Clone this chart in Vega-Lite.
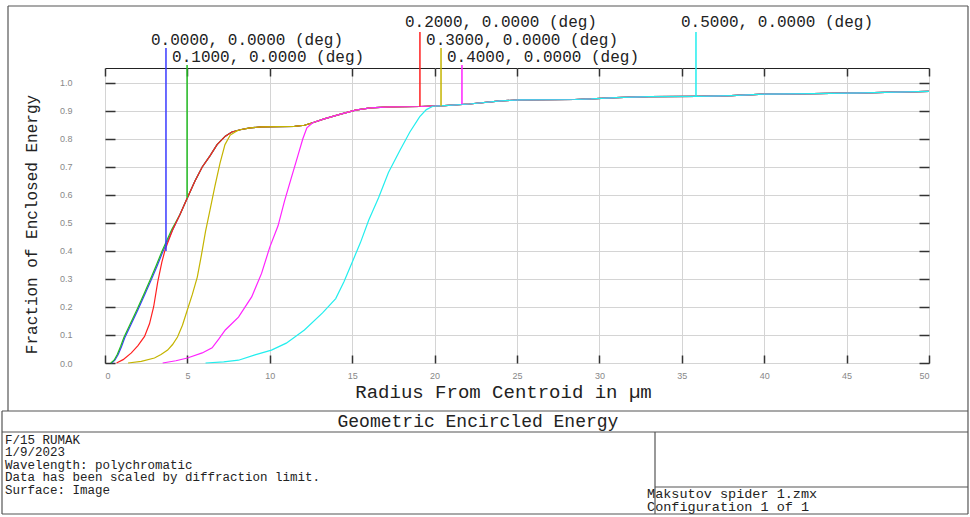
{
"$schema": "https://vega.github.io/schema/vega-lite/v6.json",
"width": 824, "height": 295,
"autosize": {"type": "none"},
"padding": {"left": 105, "top": 68, "right": 41, "bottom": 154},
"background": "white",
"config": {"view": {"stroke": "#222", "strokeWidth": 1}, "font": "Liberation Mono"},
"resolve": {"axis": {"x": "independent", "y": "independent"}},
"datasets": {
"curves": [
{"f":"0.0","r":0.4,"e":0},{"f":"0.0","r":0.6,"e":0.01},{"f":"0.0","r":0.8,"e":0.03},{"f":"0.0","r":1.0,"e":0.058},{"f":"0.0","r":1.2,"e":0.09},{"f":"0.0","r":1.6,"e":0.14},{"f":"0.0","r":2.0,"e":0.19},{"f":"0.0","r":2.4,"e":0.243},{"f":"0.0","r":2.8,"e":0.296},{"f":"0.0","r":3.15,"e":0.345},{"f":"0.0","r":3.5,"e":0.396},{"f":"0.0","r":4.1,"e":0.475},{"f":"0.0","r":4.55,"e":0.53},{"f":"0.0","r":5.0,"e":0.59},{"f":"0.0","r":5.46,"e":0.65},{"f":"0.0","r":5.9,"e":0.7},{"f":"0.0","r":6.37,"e":0.74},{"f":"0.0","r":6.8,"e":0.78},{"f":"0.0","r":7.3,"e":0.81},{"f":"0.0","r":7.7,"e":0.825},
{"f":"0.0","r":8.2,"e":0.833},{"f":"0.0","r":8.8,"e":0.84},{"f":"0.0","r":9.5,"e":0.843},{"f":"0.0","r":10.5,"e":0.844},{"f":"0.0","r":11.5,"e":0.845},{"f":"0.0","r":12.1,"e":0.849},{"f":"0.0","r":12.6,"e":0.858},{"f":"0.0","r":13.3,"e":0.872},{"f":"0.0","r":14.3,"e":0.889},{"f":"0.0","r":15.2,"e":0.903},{"f":"0.0","r":16.1,"e":0.911},{"f":"0.0","r":17.3,"e":0.915},{"f":"0.0","r":19.1,"e":0.916},{"f":"0.0","r":20.6,"e":0.919},{"f":"0.0","r":22.1,"e":0.925},{"f":"0.0","r":24.0,"e":0.936},{"f":"0.0","r":25.2,"e":0.94},{"f":"0.0","r":28.5,"e":0.941},{"f":"0.0","r":29.5,"e":0.943},{"f":"0.0","r":31,"e":0.948},{"f":"0.0","r":33,"e":0.951},{"f":"0.0","r":36,"e":0.952},{"f":"0.0","r":38,"e":0.955},{"f":"0.0","r":40,"e":0.96},{"f":"0.0","r":43,"e":0.962},{"f":"0.0","r":46,"e":0.965},{"f":"0.0","r":50,"e":0.97},
{"f":"0.1","r":0.35,"e":0},{"f":"0.1","r":0.55,"e":0.01},{"f":"0.1","r":0.75,"e":0.031},{"f":"0.1","r":0.95,"e":0.06},{"f":"0.1","r":1.15,"e":0.092},{"f":"0.1","r":1.55,"e":0.142},{"f":"0.1","r":1.95,"e":0.192},{"f":"0.1","r":2.35,"e":0.245},{"f":"0.1","r":2.75,"e":0.298},{"f":"0.1","r":3.1,"e":0.347},{"f":"0.1","r":3.45,"e":0.398},{"f":"0.1","r":4.05,"e":0.477},{"f":"0.1","r":4.55,"e":0.53},{"f":"0.1","r":5.0,"e":0.59},{"f":"0.1","r":5.46,"e":0.65},{"f":"0.1","r":5.9,"e":0.7},{"f":"0.1","r":6.37,"e":0.74},{"f":"0.1","r":6.8,"e":0.78},{"f":"0.1","r":7.3,"e":0.81},{"f":"0.1","r":7.7,"e":0.825},
{"f":"0.1","r":8.2,"e":0.833},{"f":"0.1","r":8.8,"e":0.84},{"f":"0.1","r":9.5,"e":0.843},{"f":"0.1","r":10.5,"e":0.844},{"f":"0.1","r":11.5,"e":0.845},{"f":"0.1","r":12.1,"e":0.849},{"f":"0.1","r":12.6,"e":0.858},{"f":"0.1","r":13.3,"e":0.872},{"f":"0.1","r":14.3,"e":0.889},{"f":"0.1","r":15.2,"e":0.903},{"f":"0.1","r":16.1,"e":0.911},{"f":"0.1","r":17.3,"e":0.915},{"f":"0.1","r":19.1,"e":0.916},{"f":"0.1","r":20.6,"e":0.919},{"f":"0.1","r":22.1,"e":0.925},{"f":"0.1","r":24.0,"e":0.936},{"f":"0.1","r":25.2,"e":0.94},{"f":"0.1","r":28.5,"e":0.941},{"f":"0.1","r":29.5,"e":0.943},{"f":"0.1","r":31,"e":0.948},{"f":"0.1","r":33,"e":0.951},{"f":"0.1","r":36,"e":0.952},{"f":"0.1","r":38,"e":0.955},{"f":"0.1","r":40,"e":0.96},{"f":"0.1","r":43,"e":0.962},{"f":"0.1","r":46,"e":0.965},{"f":"0.1","r":50,"e":0.97},
{"f":"0.2","r":0.7,"e":0},{"f":"0.2","r":1.1,"e":0.012},{"f":"0.2","r":1.6,"e":0.036},{"f":"0.2","r":2.0,"e":0.062},{"f":"0.2","r":2.4,"e":0.095},{"f":"0.2","r":2.7,"e":0.14},{"f":"0.2","r":2.95,"e":0.2},{"f":"0.2","r":3.2,"e":0.29},{"f":"0.2","r":3.45,"e":0.36},{"f":"0.2","r":3.65,"e":0.405},{"f":"0.2","r":4.1,"e":0.475},{"f":"0.2","r":4.55,"e":0.53},{"f":"0.2","r":5.0,"e":0.59},{"f":"0.2","r":5.46,"e":0.65},{"f":"0.2","r":5.9,"e":0.7},{"f":"0.2","r":6.37,"e":0.74},{"f":"0.2","r":6.8,"e":0.78},{"f":"0.2","r":7.3,"e":0.81},{"f":"0.2","r":7.7,"e":0.825},
{"f":"0.2","r":8.2,"e":0.833},{"f":"0.2","r":8.8,"e":0.84},{"f":"0.2","r":9.5,"e":0.843},{"f":"0.2","r":10.5,"e":0.844},{"f":"0.2","r":11.5,"e":0.845},{"f":"0.2","r":12.1,"e":0.849},{"f":"0.2","r":12.6,"e":0.858},{"f":"0.2","r":13.3,"e":0.872},{"f":"0.2","r":14.3,"e":0.889},{"f":"0.2","r":15.2,"e":0.903},{"f":"0.2","r":16.1,"e":0.911},{"f":"0.2","r":17.3,"e":0.915},{"f":"0.2","r":19.1,"e":0.916},{"f":"0.2","r":20.6,"e":0.919},{"f":"0.2","r":22.1,"e":0.925},{"f":"0.2","r":24.0,"e":0.936},{"f":"0.2","r":25.2,"e":0.94},{"f":"0.2","r":28.5,"e":0.941},{"f":"0.2","r":29.5,"e":0.943},{"f":"0.2","r":31,"e":0.948},{"f":"0.2","r":33,"e":0.951},{"f":"0.2","r":36,"e":0.952},{"f":"0.2","r":38,"e":0.955},{"f":"0.2","r":40,"e":0.96},{"f":"0.2","r":43,"e":0.962},{"f":"0.2","r":46,"e":0.965},{"f":"0.2","r":50,"e":0.97},
{"f":"0.3","r":1.4,"e":0},{"f":"0.3","r":2.2,"e":0.006},{"f":"0.3","r":3.0,"e":0.018},{"f":"0.3","r":3.4,"e":0.03},{"f":"0.3","r":3.8,"e":0.046},{"f":"0.3","r":4.1,"e":0.066},{"f":"0.3","r":4.4,"e":0.093},{"f":"0.3","r":4.7,"e":0.135},{"f":"0.3","r":5.0,"e":0.19},{"f":"0.3","r":5.3,"e":0.245},{"f":"0.3","r":5.6,"e":0.307},{"f":"0.3","r":5.85,"e":0.385},{"f":"0.3","r":6.1,"e":0.47},{"f":"0.3","r":6.37,"e":0.546},{"f":"0.3","r":6.67,"e":0.632},{"f":"0.3","r":6.98,"e":0.714},{"f":"0.3","r":7.28,"e":0.78},{"f":"0.3","r":7.6,"e":0.814},{"f":"0.3","r":8.0,"e":0.829},
{"f":"0.3","r":8.2,"e":0.833},{"f":"0.3","r":8.8,"e":0.84},{"f":"0.3","r":9.5,"e":0.843},{"f":"0.3","r":10.5,"e":0.844},{"f":"0.3","r":11.5,"e":0.845},{"f":"0.3","r":12.1,"e":0.849},{"f":"0.3","r":12.6,"e":0.858},{"f":"0.3","r":13.3,"e":0.872},{"f":"0.3","r":14.3,"e":0.889},{"f":"0.3","r":15.2,"e":0.903},{"f":"0.3","r":16.1,"e":0.911},{"f":"0.3","r":17.3,"e":0.915},{"f":"0.3","r":19.1,"e":0.916},{"f":"0.3","r":20.6,"e":0.919},{"f":"0.3","r":22.1,"e":0.925},{"f":"0.3","r":24.0,"e":0.936},{"f":"0.3","r":25.2,"e":0.94},{"f":"0.3","r":28.5,"e":0.941},{"f":"0.3","r":29.5,"e":0.943},{"f":"0.3","r":31,"e":0.948},{"f":"0.3","r":33,"e":0.951},{"f":"0.3","r":36,"e":0.952},{"f":"0.3","r":38,"e":0.955},{"f":"0.3","r":40,"e":0.96},{"f":"0.3","r":43,"e":0.962},{"f":"0.3","r":46,"e":0.965},{"f":"0.3","r":50,"e":0.97},
{"f":"0.4","r":3.5,"e":0},{"f":"0.4","r":4.3,"e":0.008},{"f":"0.4","r":5.0,"e":0.018},{"f":"0.4","r":5.9,"e":0.036},{"f":"0.4","r":6.5,"e":0.054},{"f":"0.4","r":6.9,"e":0.085},{"f":"0.4","r":7.3,"e":0.118},{"f":"0.4","r":8.1,"e":0.164},{"f":"0.4","r":8.9,"e":0.236},{"f":"0.4","r":9.5,"e":0.32},{"f":"0.4","r":10.0,"e":0.414},{"f":"0.4","r":10.5,"e":0.49},{"f":"0.4","r":10.9,"e":0.58},{"f":"0.4","r":11.3,"e":0.66},{"f":"0.4","r":11.7,"e":0.74},{"f":"0.4","r":12.0,"e":0.8},{"f":"0.4","r":12.25,"e":0.84},{"f":"0.4","r":12.6,"e":0.858},
{"f":"0.4","r":13.3,"e":0.872},{"f":"0.4","r":14.3,"e":0.889},{"f":"0.4","r":15.2,"e":0.903},{"f":"0.4","r":16.1,"e":0.911},{"f":"0.4","r":17.3,"e":0.915},{"f":"0.4","r":19.1,"e":0.916},{"f":"0.4","r":20.6,"e":0.919},{"f":"0.4","r":22.1,"e":0.925},{"f":"0.4","r":24.0,"e":0.936},{"f":"0.4","r":25.2,"e":0.94},{"f":"0.4","r":28.5,"e":0.941},{"f":"0.4","r":29.5,"e":0.943},{"f":"0.4","r":31,"e":0.948},{"f":"0.4","r":33,"e":0.951},{"f":"0.4","r":36,"e":0.952},{"f":"0.4","r":38,"e":0.955},{"f":"0.4","r":40,"e":0.96},{"f":"0.4","r":43,"e":0.962},{"f":"0.4","r":46,"e":0.965},{"f":"0.4","r":50,"e":0.97},
{"f":"0.5","r":6.1,"e":0},{"f":"0.5","r":7.2,"e":0.004},{"f":"0.5","r":8.1,"e":0.01},{"f":"0.5","r":9.1,"e":0.029},{"f":"0.5","r":10.1,"e":0.046},{"f":"0.5","r":11.0,"e":0.071},{"f":"0.5","r":12.1,"e":0.118},{"f":"0.5","r":13.2,"e":0.179},{"f":"0.5","r":14.0,"e":0.23},{"f":"0.5","r":14.5,"e":0.29},{"f":"0.5","r":15.0,"e":0.36},{"f":"0.5","r":15.5,"e":0.43},{"f":"0.5","r":16.0,"e":0.51},{"f":"0.5","r":16.6,"e":0.59},{"f":"0.5","r":17.2,"e":0.68},{"f":"0.5","r":17.9,"e":0.76},{"f":"0.5","r":18.5,"e":0.825},{"f":"0.5","r":19.1,"e":0.88},{"f":"0.5","r":19.5,"e":0.905},{"f":"0.5","r":19.9,"e":0.917},
{"f":"0.5","r":20.6,"e":0.919},{"f":"0.5","r":22.1,"e":0.925},{"f":"0.5","r":24.0,"e":0.936},{"f":"0.5","r":25.2,"e":0.94},{"f":"0.5","r":28.5,"e":0.941},{"f":"0.5","r":29.5,"e":0.943},{"f":"0.5","r":31,"e":0.948},{"f":"0.5","r":33,"e":0.951},{"f":"0.5","r":36,"e":0.952},{"f":"0.5","r":38,"e":0.955},{"f":"0.5","r":40,"e":0.96},{"f":"0.5","r":43,"e":0.962},{"f":"0.5","r":46,"e":0.965},{"f":"0.5","r":50,"e":0.97}
],
"markers": [
{"f":"0.0","label":"0.0000, 0.0000 (deg)","r":3.7,"bot":0.4,"top":1.125,"ty":1.1357},
{"f":"0.1","label":"0.1000, 0.0000 (deg)","r":4.98,"bot":0.59,"top":1.064,"ty":1.075},
{"f":"0.2","label":"0.2000, 0.0000 (deg)","r":19.11,"bot":0.916,"top":1.182,"ty":1.2},
{"f":"0.3","label":"0.3000, 0.0000 (deg)","r":20.39,"bot":0.919,"top":1.125,"ty":1.1357},
{"f":"0.4","label":"0.4000, 0.0000 (deg)","r":21.66,"bot":0.923,"top":1.064,"ty":1.075},
{"f":"0.5","label":"0.5000, 0.0000 (deg)","r":35.86,"bot":0.952,"top":1.182,"ty":1.2}
],
"frame": [
{"x":-5.886,"x2":52.366,"y":1.275,"y2":1.275},
{"x":-5.886,"x2":-5.886,"y":1.275,"y2":-0.1714},
{"x":52.366,"x2":52.366,"y":1.275,"y2":-0.1714},
{"x":-6.25,"x2":52.366,"y":-0.1714,"y2":-0.1714},
{"x":-6.25,"x2":52.366,"y":-0.2464,"y2":-0.2464},
{"x":-6.25,"x2":52.366,"y":-0.5393,"y2":-0.5393},
{"x":-6.25,"x2":-6.25,"y":-0.1714,"y2":-0.5393},
{"x":52.366,"x2":52.366,"y":-0.1714,"y2":-0.5393},
{"x":33.374,"x2":33.374,"y":-0.2464,"y2":-0.5393},
{"x":33.374,"x2":52.366,"y":-0.4429,"y2":-0.4429}
],
"boxtitle": [{"t":"Geometric Encircled Energy","x":22.63,"y":-0.2286}],
"boxtext": [
{"t":"F/15 RUMAK","x":-6.068,"y":-0.2893},
{"t":"1/9/2023","x":-6.068,"y":-0.3339},
{"t":"Wavelength: polychromatic","x":-6.068,"y":-0.3786},
{"t":"Data has been scaled by diffraction limit.","x":-6.068,"y":-0.4232},
{"t":"Surface: Image","x":-6.068,"y":-0.4679}
],
"boxtext2": [
{"t":"Maksutov spider 1.zmx","x":32.89,"y":-0.4804},
{"t":"Configuration 1 of 1","x":32.89,"y":-0.5286}
]
},
"layer": [
{
"data": {"name": "curves"},
"mark": {"type": "line", "strokeWidth": 1.2, "clip": false},
"encoding": {
"x": {"field": "r", "type": "quantitative", "scale": {"domain": [0, 50], "nice": false, "zero": false},
 "axis": {"orient": "bottom", "values": [0,5,10,15,20,25,30,35,40,45,50], "labelFont": "Liberation Sans", "labelFontSize": 9, "labelColor": "#888", "labelDx": -8, "labelPadding": 16, "tickSize": -8, "tickColor": "#333", "tickWidth": 1.5, "domain": false, "grid": true, "gridColor": "#d4d4d4", "gridWidth": 1,
  "title": "Radius From Centroid in µm", "titleFont": "Liberation Mono", "titleFontSize": 19, "titleFontWeight": "normal", "titleColor": "#222", "titleX": 398, "titleY": 34, "titleBaseline": "alphabetic", "titleAlign": "center"}},
"y": {"field": "e", "type": "quantitative", "scale": {"domain": [0, 1.05357], "nice": false, "zero": false},
 "axis": {"orient": "left", "values": [0,0.1,0.2,0.3,0.4,0.5,0.6,0.7,0.8,0.9,1.0], "format": ".1f", "labelFont": "Liberation Sans", "labelFontSize": 9, "labelColor": "#888", "labelPadding": 43, "tickSize": -10, "tickColor": "#333", "tickWidth": 1.5, "domain": false, "grid": true, "gridColor": "#d4d4d4", "gridWidth": 1,
  "title": "Fraction of Enclosed Energy", "titleFont": "Liberation Mono", "titleFontSize": 16, "titleFontWeight": "normal", "titleColor": "#222", "titleX": -74, "titleY": 156, "titleAngle": -90, "titleBaseline": "middle", "titleAlign": "center"}},
"color": {"field": "f", "type": "nominal", "scale": {"domain": ["0.0","0.1","0.2","0.3","0.4","0.5"], "range": ["#3a3aff","#22bb22","#ff2020","#c4b400","#ff22ff","#22eeee"]}, "legend": null}
}
},
{
"data": {"name": "markers"},
"mark": {"type": "rule", "strokeWidth": 1.5, "clip": false},
"encoding": {
"x": {"field": "r", "type": "quantitative", "scale": {"domain": [0, 50], "nice": false, "zero": false},
 "axis": {"orient": "top", "values": [0,5,10,15,20,25,30,35,40,45,50], "labels": false, "tickSize": -8, "tickColor": "#333", "tickWidth": 1.5, "domain": false, "grid": false, "title": null}},
"y": {"field": "bot", "type": "quantitative", "scale": {"domain": [0, 1.05357], "nice": false, "zero": false},
 "axis": {"orient": "right", "values": [0,0.1,0.2,0.3,0.4,0.5,0.6,0.7,0.8,0.9,1.0], "labels": false, "tickSize": -10, "tickColor": "#333", "tickWidth": 1.5, "domain": false, "grid": false, "title": null}},
"y2": {"field": "top"},
"color": {"field": "f", "type": "nominal", "legend": null}
}
},
{
"data": {"name": "markers"},
"mark": {"type": "text", "align": "left", "baseline": "alphabetic", "dx": -15, "font": "Liberation Mono", "fontSize": 16, "color": "#222"},
"encoding": {
"x": {"field": "r", "type": "quantitative", "scale": {"domain": [0, 50], "nice": false, "zero": false}, "axis": null},
"y": {"field": "ty", "type": "quantitative", "scale": {"domain": [0, 1.05357], "nice": false, "zero": false}, "axis": null},
"text": {"field": "label"}
}
},
{
"data": {"name": "frame"},
"mark": {"type": "rule", "color": "#555", "strokeWidth": 1.2},
"encoding": {
"x": {"field": "x", "type": "quantitative", "scale": {"domain": [0, 50], "nice": false, "zero": false}, "axis": null},
"x2": {"field": "x2"},
"y": {"field": "y", "type": "quantitative", "scale": {"domain": [0, 1.05357], "nice": false, "zero": false}, "axis": null},
"y2": {"field": "y2"}
}
},
{
"data": {"name": "boxtitle"},
"mark": {"type": "text", "align": "center", "baseline": "alphabetic", "font": "Liberation Mono", "fontSize": 18, "color": "#222"},
"encoding": {
"x": {"field": "x", "type": "quantitative", "scale": {"domain": [0, 50], "nice": false, "zero": false}, "axis": null},
"y": {"field": "y", "type": "quantitative", "scale": {"domain": [0, 1.05357], "nice": false, "zero": false}, "axis": null},
"text": {"field": "t"}
}
},
{
"data": {"name": "boxtext"},
"mark": {"type": "text", "align": "left", "baseline": "alphabetic", "font": "Liberation Mono", "fontSize": 12.5, "color": "#222"},
"encoding": {
"x": {"field": "x", "type": "quantitative", "scale": {"domain": [0, 50], "nice": false, "zero": false}, "axis": null},
"y": {"field": "y", "type": "quantitative", "scale": {"domain": [0, 1.05357], "nice": false, "zero": false}, "axis": null},
"text": {"field": "t"}
}
},
{
"data": {"name": "boxtext2"},
"mark": {"type": "text", "align": "left", "baseline": "alphabetic", "font": "Liberation Mono", "fontSize": 13.5, "color": "#222"},
"encoding": {
"x": {"field": "x", "type": "quantitative", "scale": {"domain": [0, 50], "nice": false, "zero": false}, "axis": null},
"y": {"field": "y", "type": "quantitative", "scale": {"domain": [0, 1.05357], "nice": false, "zero": false}, "axis": null},
"text": {"field": "t"}
}
}
]
}
